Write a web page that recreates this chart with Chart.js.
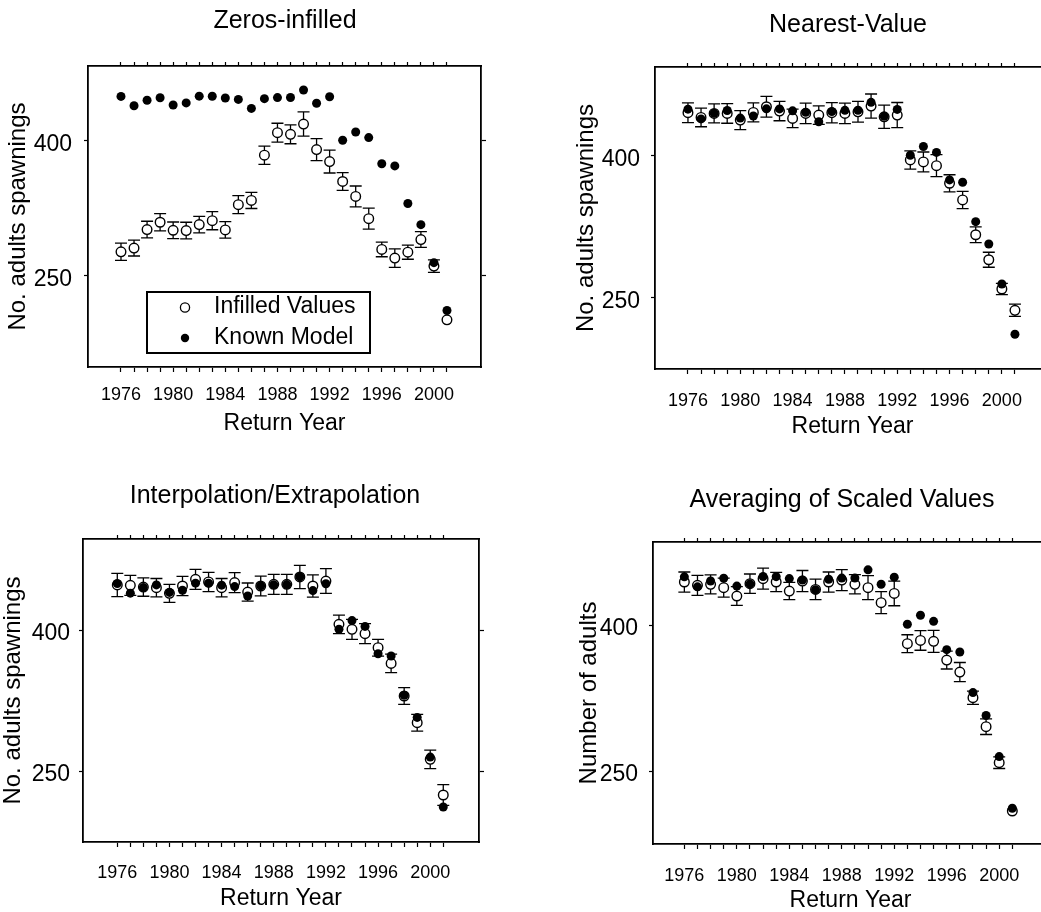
<!DOCTYPE html>
<html><head><meta charset="utf-8">
<script src="https://cdn.jsdelivr.net/npm/chart.js@4.4.0/dist/chart.umd.min.js"></script>
<style>
html,body{margin:0;padding:0;background:#fff;width:1041px;height:912px;overflow:hidden;position:relative}
.p{position:absolute}
</style></head><body>
<div class="p" id="w0"><canvas id="c0"></canvas></div>
<div class="p" id="w1"><canvas id="c1"></canvas></div>
<div class="p" id="w2"><canvas id="c2"></canvas></div>
<div class="p" id="w3"><canvas id="c3"></canvas></div>
<script>
// ---------- data ----------
const years = [1976,1977,1978,1979,1980,1981,1982,1983,1984,1985,1986,1987,1988,1989,1990,1991,1992,1993,1994,1995,1996,1997,1998,1999,2000,2001];
const knownModel = [449.5,439.2,445.2,448.0,440.0,442.3,449.8,449.7,447.7,446.2,436.2,447.0,448.2,448.3,456.7,441.9,449.2,400.8,410.0,403.8,374.7,372.3,330.6,307.0,264.8,211.7];

const zerosInfilled = [276.9,281.0,301.6,309.7,300.8,300.5,307.1,311.5,301.2,329.2,334.0,384.2,409.2,407.4,418.8,390.4,377.1,355.0,338.4,313.7,279.5,269.9,276.5,290.5,261.0,201.3];
const zerosErr      = [9.6,8.8,9.2,9.6,9.2,9.2,9.2,10.1,9.2,10.0,9.0,10.1,10.5,10.5,13.5,12.3,12.7,9.8,11.6,11.6,8.1,10.3,7.9,8.8,7.0,0];

const nearestValue  = [445.7,440.7,445.0,445.0,437.9,446.0,452.0,447.4,439.7,445.0,443.2,445.7,445.0,446.7,452.7,441.4,443.2,395.8,393.7,389.8,371.2,353.6,316.8,290.4,259.5,237.0];
const nearestErr    = [10.4,9.8,10.0,10.4,10.0,10.0,10.9,10.2,9.7,10.9,9.8,10.7,10.9,10.9,12.8,12.3,13.3,9.6,10.5,11.6,9.0,9.1,8.4,7.9,6.0,6.5];

const interpExtrap  = [447.9,447.5,445.7,445.0,439.0,446.8,453.9,451.1,445.0,450.4,440.4,446.8,448.6,448.6,456.4,446.8,452.1,406.0,400.7,396.1,381.2,364.5,329.8,301.4,262.4,224.5];
const interpErr     = [12.4,10.6,9.8,9.8,9.6,10.3,10.6,10.3,9.8,10.6,9.6,10.6,10.6,10.6,12.4,11.9,13.1,9.8,10.6,10.6,8.9,9.8,8.9,8.9,9.8,11.0];

const avgScaled     = [444.2,440.8,441.8,438.4,429.8,442.5,447.6,444.2,434.9,445.2,436.6,444.2,446.2,441.8,438.4,423.0,432.5,380.8,384.2,383.2,364.0,351.7,325.3,295.5,258.6,208.9];
const avgErr        = [10.3,10.3,9.8,9.8,9.6,9.9,10.8,9.9,8.9,10.8,10.6,10.3,10.8,9.9,12.3,11.3,12.7,9.2,10.1,11.3,9.2,9.8,6.8,8.0,6.0,0];

const xTickLabels = [1976,1980,1984,1988,1992,1996,2000];
const yTickValues = [250,400];
const panelTitles = ['Zeros-infilled','Nearest-Value','Interpolation/Extrapolation','Averaging of Scaled Values'];
const yTitles = ['No. adults spawnings','No. adults spawnings','No. adults spawnings','Number of adults'];
const seriesNames = ['Infilled Values','Known Model'];
const xTitle = 'Return Year';

// ---------- layout (positions only) ----------
const layouts = [
 {L:0,   T:0,   W:570, H:437, A:88, B:89, topH:10, botH:70, tPadTop:6,    tPadBot:20,   yTitlePad:4,    yTickPad:12, xTickPad:12.5, xMin:1973.47, xMax:2003.61, yMin:148.9, yMax:483.3},
 {L:560, T:0,   W:576, H:440, A:95, B:86, topH:10, botH:71, tPadTop:10.5, tPadBot:16.5, yTitlePad:11.6, yTickPad:11, xTickPad:16,   xMin:1973.48, xMax:2003.68, yMin:175.0, yMax:494.0},
 {L:-2,  T:456, W:554, H:456, A:85, B:73, topH:10, botH:70, tPadTop:25.5, tPadBot:17.5, yTitlePad:1,    yTickPad:9,  xTickPad:15.7, xMin:1973.37, xMax:2003.74, yMin:174.5, yMax:496.8},
 {L:560, T:456, W:564, H:458, A:93, B:76, topH:10, botH:70, tPadTop:28.8, tPadBot:17.2, yTitlePad:15.3, yTickPad:11, xTickPad:16,   xMin:1973.61, xMax:2003.72, yMin:175.0, yMax:485.3}
];
const infilledSets = [zerosInfilled, nearestValue, interpExtrap, avgScaled];
const errSets = [zerosErr, nearestErr, interpErr, avgErr];

const FONT = "'Liberation Sans', Arial, Helvetica, sans-serif";
const NARROW = "'Liberation Sans Narrow', 'Arial Narrow', 'Liberation Sans', Arial, sans-serif";

const errorBarPlugin = {
  id: 'errorBars',
  beforeDatasetsDraw(chart) {
    const errs = chart.options.plugins.errorBars.errors;
    const ds = chart.data.datasets[0];
    const xs = chart.scales.x, ys = chart.scales.y;
    const ctx = chart.ctx;
    ctx.save();
    ctx.strokeStyle = '#000';
    ctx.lineWidth = 1.3;
    ds.data.forEach((pt, i) => {
      const e = errs[i];
      if (!e || e < 2) return;
      const px = xs.getPixelForValue(pt.x);
      const yt = ys.getPixelForValue(pt.y + e);
      const yb = ys.getPixelForValue(pt.y - e);
      ctx.beginPath();
      ctx.moveTo(px, yt); ctx.lineTo(px, yb);
      ctx.moveTo(px - 6, yt); ctx.lineTo(px + 6, yt);
      ctx.moveTo(px - 6, yb); ctx.lineTo(px + 6, yb);
      ctx.stroke();
    });
    ctx.restore();
  }
};

const boxLegendPlugin = {
  id: 'boxLegend',
  afterDraw(chart) {
    const o = chart.options.plugins.boxLegend;
    if (!o || !o.show) return;
    const ctx = chart.ctx;
    const ca = chart.chartArea;
    const bx = ca.left + 59, by = ca.top + 226, bw = 223, bh = 61;
    ctx.save();
    ctx.strokeStyle = '#000';
    ctx.lineWidth = 2;
    ctx.strokeRect(bx, by, bw, bh);
    const labels = chart.data.datasets.map(d => d.label);
    ctx.beginPath();
    ctx.arc(bx + 38, by + 15.5, 4.6, 0, Math.PI * 2);
    ctx.fillStyle = '#fff'; ctx.fill();
    ctx.lineWidth = 1.3; ctx.stroke();
    ctx.beginPath();
    ctx.arc(bx + 38, by + 46, 4.2, 0, Math.PI * 2);
    ctx.fillStyle = '#000'; ctx.fill();
    ctx.fillStyle = '#000';
    ctx.font = '23px ' + FONT;
    ctx.textBaseline = 'middle';
    ctx.textAlign = 'left';
    ctx.fillText(labels[0], bx + 67, by + 15);
    ctx.fillText(labels[1], bx + 67, by + 45.5);
    ctx.restore();
  }
};

layouts.forEach((lay, p) => {
  const w = document.getElementById('w' + p);
  w.style.left = lay.L + 'px';
  w.style.top = lay.T + 'px';
  w.style.width = lay.W + 'px';
  w.style.height = lay.H + 'px';

  const infilled = infilledSets[p];
  const yearTicks = (s) => { s.ticks = years.map(v => ({value: v})); };
  const yTicks = (s) => { s.ticks = yTickValues.map(v => ({value: v})); };
  const frame = {display: true, color: '#000', width: 1.8};

  new Chart(document.getElementById('c' + p), {
    type: 'scatter',
    data: {
      datasets: [
        {label: seriesNames[0], data: years.map((y, i) => ({x: y, y: infilled[i]})),
         pointStyle: 'circle', pointRadius: 4.8, pointHoverRadius: 4.8,
         pointBackgroundColor: '#fff', pointBorderColor: '#000', pointBorderWidth: 1.4, order: 2},
        {label: seriesNames[1], data: years.map((y, i) => ({x: y, y: knownModel[i]})),
         pointStyle: 'circle', pointRadius: 4.5, pointHoverRadius: 4.5,
         pointBackgroundColor: '#000', pointBorderColor: '#000', pointBorderWidth: 0, order: 1}
      ]
    },
    options: {
      responsive: true,
      maintainAspectRatio: false,
      animation: false,
      devicePixelRatio: 1,
      layout: {padding: 0},
      events: [],
      plugins: {
        legend: {display: false},
        tooltip: {enabled: false},
        title: {display: true, text: panelTitles[p], color: '#000',
                font: {family: FONT, size: 25, weight: 'normal', lineHeight: 1.2},
                padding: {top: lay.tPadTop, bottom: lay.tPadBot}},
        errorBars: {errors: errSets[p]},
        boxLegend: {show: p === 0}
      },
      scales: {
        x: {
          type: 'linear', position: 'bottom', min: lay.xMin, max: lay.xMax,
          afterBuildTicks: yearTicks,
          afterFit: (s) => { s.height = lay.botH; },
          ticks: {autoSkip: false, maxRotation: 0, minRotation: 0, color: '#000',
                  padding: lay.xTickPad,
                  font: {family: NARROW, size: 18, lineHeight: 1.2},
                  callback: (v) => xTickLabels.includes(v) ? String(v) : ''},
          grid: {display: true, drawOnChartArea: false, drawTicks: true, tickLength: 5, tickColor: '#000', tickWidth: 1.2},
          border: frame,
          title: {display: true, text: xTitle, color: '#000',
                  font: {family: FONT, size: 23, lineHeight: 1.2}, padding: {top: 0, bottom: 0}}
        },
        x2: {
          type: 'linear', position: 'top', min: lay.xMin, max: lay.xMax,
          afterBuildTicks: yearTicks,
          afterFit: (s) => { s.height = lay.topH; },
          ticks: {display: false, autoSkip: false, maxRotation: 0},
          grid: {display: true, drawOnChartArea: false, drawTicks: true, tickLength: 4, tickColor: '#000', tickWidth: 1.2},
          border: frame
        },
        y: {
          type: 'linear', position: 'left', min: lay.yMin, max: lay.yMax,
          afterBuildTicks: yTicks,
          afterFit: (s) => { s.width = lay.A; },
          ticks: {color: '#000', padding: lay.yTickPad, labelOffset: 4,
                  font: {family: FONT, size: 23, lineHeight: 1.2}},
          grid: {display: true, drawOnChartArea: false, drawTicks: true, tickLength: 4, tickColor: '#000', tickWidth: 1.2},
          border: frame,
          title: {display: true, text: yTitles[p], color: '#000',
                  font: {family: FONT, size: 24, lineHeight: 1.2}, padding: {top: lay.yTitlePad, bottom: 0}}
        },
        y2: {
          type: 'linear', position: 'right', min: lay.yMin, max: lay.yMax,
          afterBuildTicks: yTicks,
          afterFit: (s) => { s.width = lay.B; },
          ticks: {display: false},
          grid: {display: true, drawOnChartArea: false, drawTicks: true, tickLength: 5, tickColor: '#000', tickWidth: 1.2},
          border: frame
        }
      }
    },
    plugins: [errorBarPlugin, boxLegendPlugin]
  });
});
</script>
</body></html>
